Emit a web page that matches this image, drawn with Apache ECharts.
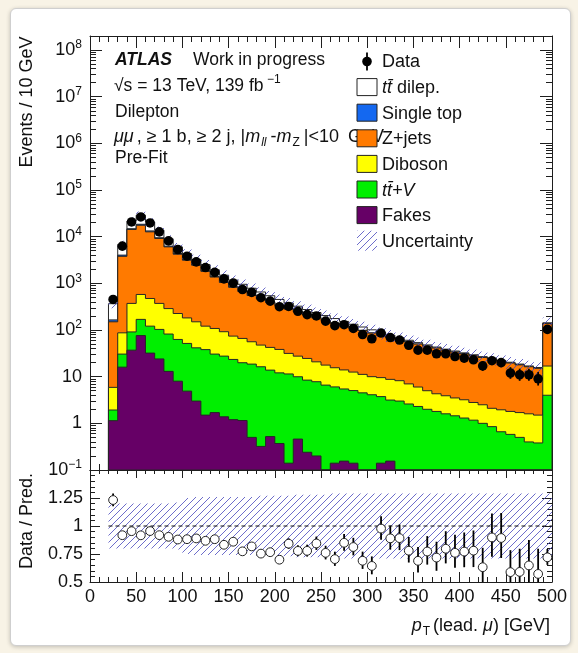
<!DOCTYPE html>
<html>
<head>
<meta charset="utf-8">
<script src="https://cdn.jsdelivr.net/npm/echarts@6/dist/echarts.min.js"></script>
<style>
  html, body { margin: 0; padding: 0; width: 578px; height: 653px; background: #f8f3e6; overflow: hidden; }
  #card { position: absolute; left: 10px; top: 8px; width: 559px; height: 636px; background: #fff;
          border: 1px solid #cfcfcf; border-radius: 6px; box-shadow: 0 1px 4px rgba(0,0,0,0.22); }
  #chart { position: absolute; left: 0; top: 0; width: 578px; height: 653px; }
</style>
</head>
<body>
<div id="card"></div>
<div id="chart"></div>
<script>
// ---- binning: leading-muon pT, 10 GeV bins from 20 GeV (last bin holds the overflow) ----
const binLow = [20,30,40,50,60,70,80,90,100,110,120,130,140,150,160,170,180,190,200,210,220,230,240,250,
                260,270,280,290,300,310,320,330,340,350,360,370,380,390,400,410,420,430,440,450,460,470,480,490];
const binWidth = 10;

// ---- observed events per bin ----
const dataCounts = [452,6270,20700,26500,19700,12700,8130,5320,3820,2890,2180,1720,1245,1010,739,642,492,416,316,320,
                    252,214,200,155,124,130,108,80,65,86,69,61,47,37,37,31,31,27,25,23,17,22,20,12,11,11,9,103];

// ---- pre-fit expectations per process ----
const ttbarDilep = [202,2800,6880,10450,7330,4330,2730,1690,1100,740,645,540,415,326,265,218,175,141,113,91.5,
                    75,61,50.4,41.5,34.2,28.3,22.1,17.2,14.1,10.5,8.6,6.3,4.4,3.5,2.7,2.0,1.75,1.66,1.48,1.39,
                    1.0,0.92,0.83,0.74,0.68,0.63,0.58,5.25];
const singleTop = [15,230,560,850,600,350,220,140,90,60,58,45,34,26,22,18,14,11,9,7.5,6,5,4.1,3.4,2.8,2.3,1.8,1.4,
                   1.1,0.9,0.7,0.5,0.4,0.3,0.22,0.17,0.15,0.14,0.12,0.11,0.09,0.08,0.07,0.06,0.06,0.05,0.05,0.45];
const zJets = [144,3713,13888,17022,12226,8778,5762,3994,2958,2300,1688,1257,955,749,602,493,416.5,348.6,291.6,249.5,
               215.4,184.4,161.7,141.3,123.5,108.4,96.5,86.2,75.8,67.1,59.5,53.4,48.5,43.9,40,36.7,33.1,30.2,27.6,25.2,
               23.3,21.4,19.55,17.8,16.2,14.7,13.6,120.4];
const diboson = [3.97,56.5,281,409,353,269,206,163,130,108.5,83,77.5,64.4,50.6,46.1,37.4,31.2,28.6,26.3,20.1,17.6,16.15,
                 13,11.1,9.5,8.5,7.5,6.7,5.9,5.8,5.6,5.2,4.4,3.7,3.0,2.5,2.3,2.05,1.9,1.63,1.5,1.25,1.29,1.22,1.2,1.2,1.12,12.9];
const ttV = [0.79,14.5,54,93,89,79,69,54.8,46.7,38.5,36.5,28.8,26.2,22.2,18.75,18.1,16.0,13.3,11.7,11.3,9.5,8.2,7.6,6.6,
             5.9,5.3,4.9,4.5,4.1,3.6,3.0,3.0,2.6,2.3,2.0,1.8,1.6,1.45,1.3,1.17,1.0,0.85,0.66,0.58,0.5,0.4,0.38,4.0];
const fakes = [1.14,16,37,76,32,24,13,8,4.9,3.0,1.5,1.7,1.38,1.2,1.15,0.5,0.32,0.52,0.37,0.14,0.46,0.24,0.2,0,0.14,0.155,
               0.14,0,0,0.14,0.155,0,0,0,0,0,0,0,0,0,0,0,0,0,0,0,0,0];

// ---- relative total uncertainty of the prediction per bin ----
const relUnc = [0.2,0.2,0.2,0.2,0.2,0.2,0.2,0.21,0.25,0.26,0.26,0.26,0.26,0.26,0.26,0.26,0.27,0.27,0.27,0.27,0.28,0.28,
                0.28,0.28,0.29,0.29,0.29,0.29,0.29,0.29,0.29,0.29,0.29,0.29,0.29,0.29,0.29,0.29,0.29,0.29,0.29,0.29,
                0.29,0.29,0.29,0.29,0.29,0.29];

// ---- axis tick labels ----
const logLabelValues = [0.1,1,10,100,1000,10000,100000,1000000,10000000,100000000];
const ratioLabels = ['0.5','0.75','1','1.25'];

const FONT = "'Liberation Sans', Arial, Helvetica, sans-serif";
const AX = '#1e1e1e';
const YMIN = 0.1, YMAX = 2e8;
const nb = binLow.length;
const xHi = binLow[nb - 1] + binWidth;

// minor log ticks at 2..9 x 10^k inside the plotted range
const logMinor = [];
logLabelValues.forEach(d => { for (let k = 2; k <= 9; k++) { const v = d * k; if (v < YMAX) logMinor.push(v); } });

// stack order, bottom to top
const layers = [
  { name: 'Fakes',      vals: fakes,      color: '#660066' },
  { name: 'ttV',        vals: ttV,        color: '#00ef00' },
  { name: 'Diboson',    vals: diboson,    color: '#ffff00' },
  { name: 'Z+jets',     vals: zJets,      color: '#ff7a00' },
  { name: 'Single top', vals: singleTop,  color: '#1468f0' },
  { name: 'ttbar',      vals: ttbarDilep, color: '#ffffff' }
];
let running = new Array(nb).fill(0);
layers.forEach(l => { running = running.map((r, i) => r + l.vals[i]); l.cum = running.slice(); });
const total = running;
const ratio = dataCounts.map((n, i) => n / total[i]);
const errUp = dataCounts.map(n => Math.sqrt(n + 0.25) + 0.5);
const errDn = dataCounts.map(n => Math.sqrt(n + 0.25) - 0.5);

// diagonal hatch used for the uncertainty bands
function makeHatch() {
  const s = 7, c = document.createElement('canvas');
  c.width = s; c.height = s;
  const g = c.getContext('2d');
  g.strokeStyle = 'rgba(72,72,190,0.8)';
  g.lineWidth = 1;
  g.beginPath();
  g.moveTo(0, s); g.lineTo(s, 0);
  g.moveTo(-1, 1); g.lineTo(1, -1);
  g.moveTo(s - 1, s + 1); g.lineTo(s + 1, s - 1);
  g.stroke();
  return c;
}
const hatchCanvas = makeHatch();
const hatchFill = () => ({ image: hatchCanvas, repeat: 'repeat' });

// step-shaped polygon between a lower and an upper histogram
function stepBand(api, hi, lo, floor) {
  const p = [];
  for (let i = 0; i < nb; i++) {
    const v = Math.max(hi[i], floor);
    p.push(api.coord([binLow[i], v]));
    p.push(api.coord([binLow[i] + binWidth, v]));
  }
  for (let i = nb - 1; i >= 0; i--) {
    const v = Math.max(lo[i], floor);
    p.push(api.coord([binLow[i] + binWidth, v]));
    p.push(api.coord([binLow[i], v]));
  }
  return p;
}

const floorArr = new Array(nb).fill(YMIN);
const stackSeries = layers.slice().reverse().map(l => ({
  type: 'custom', name: l.name, xAxisIndex: 0, yAxisIndex: 0, clip: true, z: 2,
  data: [0],
  renderItem: (params, api) => ({
    type: 'polygon',
    shape: { points: stepBand(api, l.cum, floorArr, YMIN) },
    style: { fill: l.color, stroke: '#262626', lineWidth: 1 }
  })
}));

const bandHi = total.map((t, i) => t * (1 + relUnc[i]));
const bandLo = total.map((t, i) => t * (1 - relUnc[i]));
const ratioHi = relUnc.map(u => 1 + u);
const ratioLo = relUnc.map(u => 1 - u);

const series = [
  ...stackSeries,
  {
    type: 'custom', name: 'Uncertainty', xAxisIndex: 0, yAxisIndex: 0, clip: true, z: 3,
    data: [0],
    renderItem: (params, api) => ({
      type: 'polygon', shape: { points: stepBand(api, bandHi, bandLo, YMIN) },
      style: { fill: hatchFill(), stroke: null }
    })
  },
  {
    type: 'custom', name: 'Data', xAxisIndex: 0, yAxisIndex: 0, clip: true, z: 5,
    data: dataCounts.map((n, i) => [binLow[i] + binWidth / 2, n]),
    renderItem: (params, api) => {
      const i = params.dataIndex, x = binLow[i] + binWidth / 2, n = dataCounts[i];
      const c = api.coord([x, n]);
      const a = api.coord([x, n + errUp[i]]);
      const b = api.coord([x, Math.max(n - errDn[i], YMIN)]);
      return { type: 'group', children: [
        { type: 'line', shape: { x1: c[0], y1: a[1], x2: c[0], y2: b[1] }, style: { stroke: '#000', lineWidth: 1.8 } },
        { type: 'circle', shape: { cx: c[0], cy: c[1], r: 4.8 }, style: { fill: '#000' } }
      ] };
    }
  },
  // ratio pad
  {
    type: 'custom', name: 'Ratio uncertainty', xAxisIndex: 2, yAxisIndex: 4, clip: true, z: 2,
    data: [0],
    renderItem: (params, api) => ({
      type: 'polygon', shape: { points: stepBand(api, ratioHi, ratioLo, -10) },
      style: { fill: hatchFill(), stroke: null }
    })
  },
  {
    type: 'custom', name: 'Unity', xAxisIndex: 2, yAxisIndex: 4, clip: true, z: 3,
    data: [0],
    renderItem: (params, api) => {
      const a = api.coord([binLow[0], 1]), b = api.coord([xHi, 1]);
      return { type: 'line', shape: { x1: a[0], y1: a[1], x2: b[0], y2: b[1] },
               style: { stroke: '#111', lineWidth: 1, lineDash: [4, 3] } };
    }
  },
  {
    type: 'custom', name: 'Data / Pred.', xAxisIndex: 2, yAxisIndex: 4, clip: true, z: 5,
    data: ratio.map((r, i) => [binLow[i] + binWidth / 2, r]),
    renderItem: (params, api) => {
      const i = params.dataIndex, x = binLow[i] + binWidth / 2, r = ratio[i];
      const c = api.coord([x, r]);
      const a = api.coord([x, r + errUp[i] / total[i]]);
      const b = api.coord([x, r - errDn[i] / total[i]]);
      return { type: 'group', children: [
        { type: 'line', shape: { x1: c[0], y1: a[1], x2: c[0], y2: b[1] }, style: { stroke: '#000', lineWidth: 1.8 } },
        { type: 'circle', shape: { cx: c[0], cy: c[1], r: 4.4 }, style: { fill: '#fff', stroke: '#222', lineWidth: 1 } }
      ] };
    }
  }
];

function xAxisCfg(grid, pos, showLabels, majorLen, minorLen) {
  return {
    gridIndex: grid, type: 'value', position: pos, min: 0, max: 500, interval: 50,
    axisLine: { show: true, onZero: false, lineStyle: { color: AX, width: 1 } },
    axisTick: { show: true, inside: true, length: majorLen, lineStyle: { color: AX, width: 1 } },
    minorTick: { show: true, splitNumber: 5, length: minorLen, lineStyle: { color: AX, width: 1 } },
    splitLine: { show: false }, minorSplitLine: { show: false },
    axisLabel: { show: showLabels, margin: 6, color: '#111', fontSize: 18, fontFamily: FONT, formatter: v => String(v) }
  };
}

const labelRich = {
  b: { fontSize: 18, fontFamily: FONT, color: '#111', lineHeight: 22 },
  s: { fontSize: 12, fontFamily: FONT, color: '#111', lineHeight: 12, verticalAlign: 'top' }
};
function logFmt(v) {
  const e = Math.round(Math.log10(v));
  if (e === 0) return '{b|1}';
  if (e === 1) return '{b|10}';
  return '{b|10}{s|' + (e < 0 ? '\u2212' + (-e) : e) + '}';
}
function logAxis(pos, major, showLabels) {
  return {
    gridIndex: 0, type: 'log', logBase: 10, min: YMIN, max: YMAX, position: pos,
    axisLine: { show: major, lineStyle: { color: AX, width: 1 } },
    splitLine: { show: false },
    axisTick: { show: true, inside: true, length: major ? 12 : 6,
                customValues: major ? logLabelValues : logMinor, lineStyle: { color: AX, width: 1 } },
    axisLabel: { show: showLabels, customValues: logLabelValues, margin: 8, formatter: logFmt, rich: labelRich,
                 color: '#111', fontSize: 18, fontFamily: FONT }
  };
}
function ratioAxis(pos, showLabels) {
  return {
    gridIndex: 1, type: 'value', min: 0.5, max: 1.5, interval: 0.25, position: pos,
    axisLine: { show: true, onZero: false, lineStyle: { color: AX, width: 1 } },
    axisTick: { show: true, inside: true, length: 10, lineStyle: { color: AX, width: 1 } },
    minorTick: { show: true, splitNumber: 5, length: 5, lineStyle: { color: AX, width: 1 } },
    splitLine: { show: false }, minorSplitLine: { show: false },
    axisLabel: { show: showLabels, margin: 7, color: '#111', fontSize: 18, fontFamily: FONT,
                 formatter: v => { const k = ratioLabels.indexOf(String(v)); return k < 0 ? '' : ratioLabels[k]; } }
  };
}

// text helpers for annotations and legend
function txt(x, y, text, size, extra) {
  return {
    type: 'text', x: x, y: y, z: 100,
    style: Object.assign({ text: text, fontSize: size, fontFamily: FONT, fill: '#111',
                           align: 'left', verticalAlign: 'middle', textAlign: 'left', textVerticalAlign: 'middle' },
                         extra || {})
  };
}
function richSet(size, subPad) {
  const sp = subPad || [0, 3, 0, 1];
  return {
    n:    { fontSize: size, fontFamily: FONT, fill: '#111', color: '#111', lineHeight: 24 },
    i:    { fontSize: size, fontFamily: FONT, fontStyle: 'italic', fill: '#111', color: '#111', lineHeight: 24 },
    iw:   { fontSize: size, fontFamily: FONT, fontStyle: 'italic', fill: '#111', color: '#111', lineHeight: 24, padding: [0, 3, 0, 0] },
    sup:  { fontSize: 12, fontFamily: FONT, fill: '#111', color: '#111', lineHeight: 12, verticalAlign: 'top' },
    sub:  { fontSize: 12, fontFamily: FONT, fill: '#111', color: '#111', lineHeight: 12, verticalAlign: 'bottom', padding: sp },
    isub: { fontSize: 12, fontFamily: FONT, fontStyle: 'italic', fill: '#111', color: '#111', lineHeight: 12, verticalAlign: 'bottom', padding: sp }
  };
}

const legendX = 357, legendTextX = 382;
const legendRows = [61.5, 87.1, 112.7, 138.3, 163.9, 189.5, 215.1, 240.7];
const boxH = 17, boxW = 20;
function box(row, fill, stroke) {
  return { type: 'rect', z: 100, shape: { x: legendX, y: legendRows[row] - boxH / 2, width: boxW, height: boxH },
           style: { fill: fill, stroke: stroke, lineWidth: 1 } };
}

const TXT = 17.5;
const graphics = [
  // axis titles
  { type: 'text', x: 27, y: 36.5, rotation: Math.PI / 2, z: 100,
    style: { text: 'Events / 10 GeV', fontSize: 18, fontFamily: FONT, fill: '#111',
             align: 'right', verticalAlign: 'middle', textAlign: 'right', textVerticalAlign: 'middle' } },
  { type: 'text', x: 27, y: 473, rotation: Math.PI / 2, z: 100,
    style: { text: 'Data / Pred.', fontSize: 18, fontFamily: FONT, fill: '#111',
             align: 'right', verticalAlign: 'middle', textAlign: 'right', textVerticalAlign: 'middle' } },
  txt(550, 626, '{i|p}{sub|T}{n|(lead. }{i|\u03bc}{n|) [GeV]}', 18,
      { align: 'right', textAlign: 'right', rich: richSet(18) }),
  // plot annotations
  txt(115, 60, 'ATLAS', TXT, { fontWeight: 'bold', fontStyle: 'italic' }),
  txt(193, 60, 'Work in progress', TXT),
  txt(114, 86, '{n|\u221as = 13 TeV, 139 fb}{sup| \u22121}', TXT, { rich: richSet(TXT) }),
  txt(115, 112, 'Dilepton', TXT),
  txt(114, 137, '{iw|\u03bc\u03bc}{n|, \u2265 1 b, \u2265 2 j, |}{i|m}{isub|ll}{n|-}{i|m}{sub|Z}{n||<10\u2002GeV}', 18,
      { rich: richSet(18, [0, 4, 0, 1]) }),
  txt(115, 158, 'Pre-Fit', TXT),
  // legend
  { type: 'line', z: 100, shape: { x1: 367, y1: legendRows[0] - 9, x2: 367, y2: legendRows[0] + 9 },
    style: { stroke: '#000', lineWidth: 1.8 } },
  { type: 'circle', z: 100, shape: { cx: 367, cy: legendRows[0], r: 4.8 }, style: { fill: '#000' } },
  box(1, '#ffffff', '#222'),
  box(2, '#1468f0', '#222'),
  box(3, '#ff7a00', '#222'),
  box(4, '#ffff00', '#222'),
  box(5, '#00ef00', '#222'),
  box(6, '#660066', '#222'),
  { type: 'rect', z: 100, shape: { x: legendX, y: legendRows[7] - 10, width: boxW, height: 20 },
    style: { fill: hatchFill(), stroke: null } },
  txt(legendTextX, legendRows[0] + 1, 'Data', 18),
  txt(legendTextX, legendRows[1] + 1, '{i|tt\u0304}{n| dilep.}', 18, { rich: richSet(18) }),
  txt(legendTextX, legendRows[2] + 1, 'Single top', 18),
  txt(legendTextX, legendRows[3] + 1, 'Z+jets', 18),
  txt(legendTextX, legendRows[4] + 1, 'Diboson', 18),
  txt(legendTextX, legendRows[5] + 1, '{i|tt\u0304+V}', 18, { rich: richSet(18) }),
  txt(legendTextX, legendRows[6] + 1, 'Fakes', 18),
  txt(legendTextX, legendRows[7] + 1, 'Uncertainty', 18)
];

const chart = echarts.init(document.getElementById('chart'), null, { renderer: 'canvas' });
chart.setOption({
  animation: false,
  backgroundColor: 'transparent',
  grid: [
    { left: 90, top: 36, width: 462, height: 434 },
    { left: 90, top: 470, width: 462, height: 112 }
  ],
  xAxis: [
    xAxisCfg(0, 'bottom', false, 12, 6),
    xAxisCfg(0, 'top', false, 12, 6),
    xAxisCfg(1, 'bottom', true, 10, 5),
    xAxisCfg(1, 'top', false, 8, 4)
  ],
  yAxis: [
    logAxis('left', true, true),
    logAxis('left', false, false),
    logAxis('right', true, false),
    logAxis('right', false, false),
    ratioAxis('left', true),
    ratioAxis('right', false)
  ],
  series: series,
  graphic: { elements: graphics }
});
</script>
</body>
</html>
